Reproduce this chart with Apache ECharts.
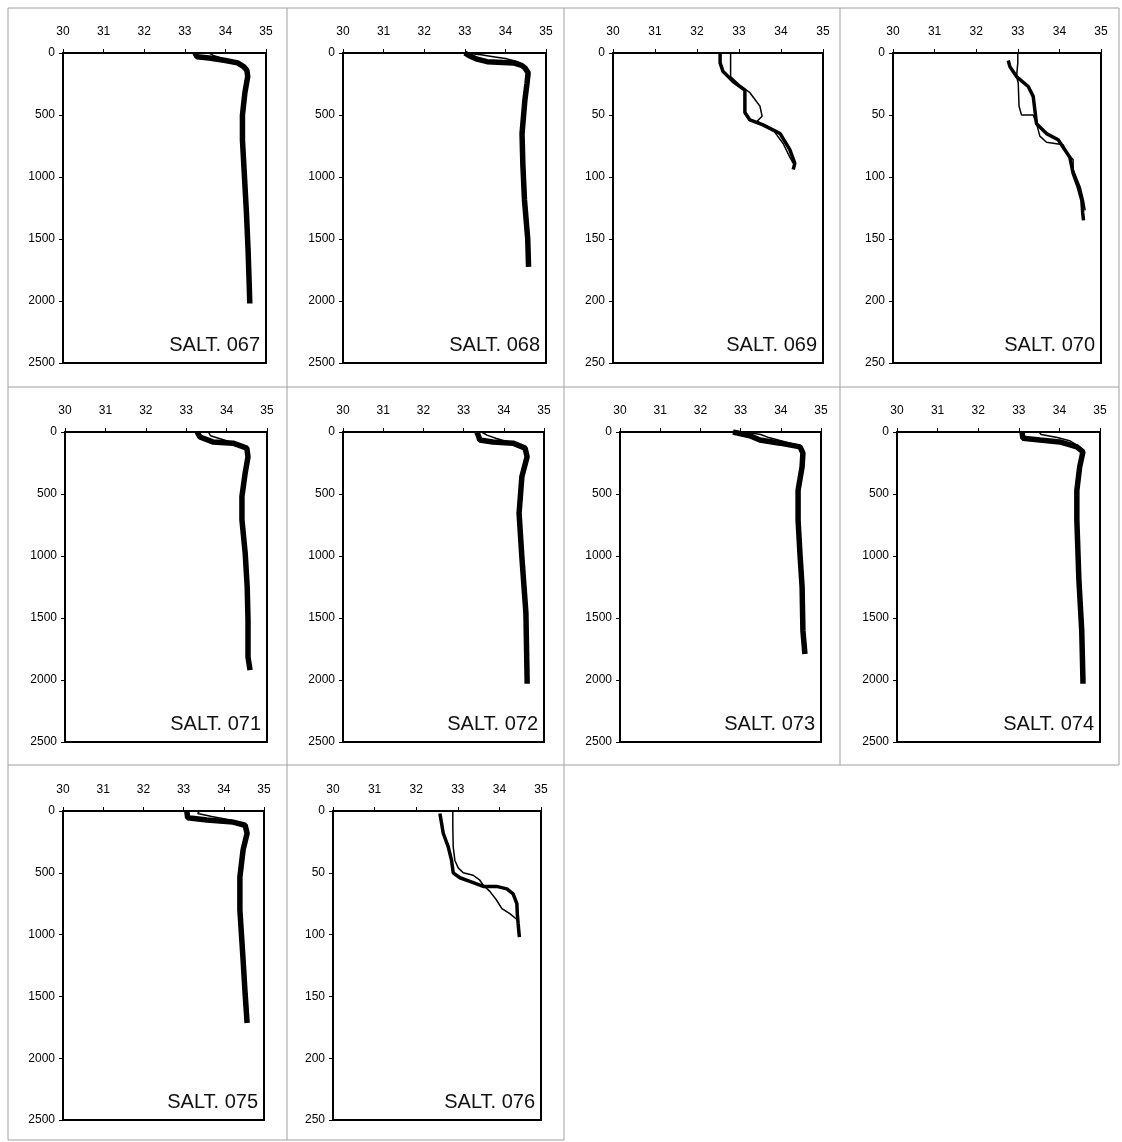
<!DOCTYPE html>
<html lang="en">
<head>
    <meta charset="UTF-8">
    <title>SALT profiles</title>
    <script src="https://cdn.jsdelivr.net/npm/echarts@6/dist/echarts.min.js"></script>
    <style>
        body { margin: 0; background: #fff; }
        #chart1 { width: 1122px; height: 1142px; }
    </style>
</head>
<body>
    <div id="chart1"></div>
<script type="text/javascript">
    // salinity axis, same on every panel
    var salMin = 30, salMax = 35;

    // station names
    var stations = ['067', '068', '069', '070', '071', '072', '073', '074', '075', '076'];

    // depth range of each panel (m)
    var depthMax = [2500, 2500, 250, 250, 2500, 2500, 2500, 2500, 2500, 250];

    // 067 - thick cast (a), thin cast (b)
    var d067a = [0, 30, 40, 60, 80, 110, 140, 190, 320, 500, 700, 1000, 1300, 1600, 1900, 2020];
    var s067a = [33.25, 33.3, 33.6, 34.0, 34.3, 34.45, 34.53, 34.55, 34.48, 34.42, 34.42, 34.47, 34.52, 34.56, 34.59, 34.6];
    var d067b = [0, 20, 40, 60, 90, 130, 200, 320];
    var s067b = [33.6, 33.7, 33.9, 34.1, 34.35, 34.5, 34.55, 34.48];

    // 068
    var d068a = [0, 20, 50, 70, 80, 100, 120, 160, 250, 380, 650, 900, 1185, 1500, 1725];
    var s068a = [33.0, 33.1, 33.3, 33.55, 34.2, 34.4, 34.48, 34.56, 34.53, 34.48, 34.41, 34.43, 34.47, 34.55, 34.57];
    var d068b = [0, 15, 30, 45, 70, 100, 140];
    var s068b = [33.0, 33.4, 33.7, 34.0, 34.3, 34.45, 34.55];

    // 069
    var d069a = [0, 8, 15, 23, 30, 48, 54, 58, 65, 78, 89, 94];
    var s069a = [32.55, 32.55, 32.62, 32.86, 33.14, 33.14, 33.26, 33.57, 33.98, 34.21, 34.33, 34.29];
    var d069b = [0, 19, 26, 32, 43, 51, 55, 62, 73, 84, 89];
    var s069b = [32.8, 32.8, 33.02, 33.26, 33.5, 33.55, 33.43, 33.81, 34.05, 34.21, 34.29];

    // 070
    var d070a = [6, 11, 19, 27, 35, 46, 57, 65, 70, 76, 84, 97, 108, 119, 129, 135];
    var s070a = [32.77, 32.81, 32.97, 33.25, 33.37, 33.41, 33.45, 33.69, 33.97, 34.09, 34.25, 34.33, 34.45, 34.54, 34.56, 34.58];
    var d070b = [0, 8, 19, 24, 43, 50, 50, 57, 67, 72, 74, 81, 86, 94, 108, 119, 127];
    var s070b = [33.0, 33.0, 32.97, 33.01, 33.03, 33.09, 33.37, 33.45, 33.53, 33.69, 34.09, 34.18, 34.33, 34.33, 34.5, 34.58, 34.62];

    // 071
    var d071a = [0, 40, 80, 90, 130, 200, 330, 520, 710, 975, 1250, 1515, 1815, 1920];
    var s071a = [33.27, 33.34, 33.66, 34.16, 34.5, 34.53, 34.46, 34.38, 34.38, 34.46, 34.51, 34.53, 34.53, 34.58];
    var d071b = [0, 30, 60, 90, 130];
    var s071b = [33.55, 33.6, 33.9, 34.2, 34.5];

    // 072
    var d072a = [0, 40, 65, 80, 90, 130, 200, 360, 655, 1010, 1460, 2000, 2030];
    var s072a = [33.33, 33.38, 33.4, 33.73, 34.23, 34.53, 34.58, 34.45, 34.38, 34.45, 34.55, 34.58, 34.58];
    var d072b = [0, 25, 50, 80, 120];
    var s072b = [33.45, 33.58, 33.8, 34.1, 34.45];

    // 073
    var d073a = [0, 30, 65, 90, 120, 170, 280, 470, 710, 1000, 1250, 1600, 1790];
    var s073a = [32.81, 33.23, 33.48, 33.98, 34.48, 34.55, 34.53, 34.43, 34.43, 34.48, 34.53, 34.55, 34.6];
    var d073b = [0, 20, 45, 70, 100, 140];
    var s073b = [33.1, 33.5, 33.7, 34.0, 34.35, 34.52];

    // 074
    var d074a = [0, 50, 65, 80, 120, 160, 280, 470, 710, 1190, 1600, 2000, 2030];
    var s074a = [33.08, 33.1, 33.52, 34.01, 34.43, 34.58, 34.5, 34.43, 34.43, 34.48, 34.55, 34.58, 34.58];
    var d074b = [0, 20, 45, 70, 110];
    var s074b = [33.5, 33.55, 33.95, 34.25, 34.45];

    // 075
    var d075a = [0, 55, 73, 90, 115, 180, 315, 535, 800, 1205, 1475, 1715];
    var s075a = [33.08, 33.1, 33.58, 34.23, 34.53, 34.58, 34.48, 34.4, 34.4, 34.48, 34.53, 34.58];
    var d075b = [0, 20, 45, 75, 110];
    var s075b = [33.4, 33.35, 33.7, 34.2, 34.5];

    // 076
    var d076a = [2, 18, 29, 40, 50, 54, 57, 61, 61, 63, 67, 75, 83, 91, 102];
    var s076a = [32.57, 32.65, 32.77, 32.85, 32.89, 33.05, 33.29, 33.61, 33.93, 34.18, 34.33, 34.42, 34.43, 34.45, 34.48];
    var d076b = [0, 13, 29, 40, 46, 50, 52, 56, 60, 65, 72, 79, 83, 88];
    var s076b = [32.88, 32.88, 32.89, 32.93, 33.01, 33.13, 33.37, 33.53, 33.61, 33.77, 33.93, 34.06, 34.25, 34.43];

    var casts = {
        '067': [[d067a, s067a], [d067b, s067b]],
        '068': [[d068a, s068a], [d068b, s068b]],
        '069': [[d069a, s069a], [d069b, s069b]],
        '070': [[d070a, s070a], [d070b, s070b]],
        '071': [[d071a, s071a], [d071b, s071b]],
        '072': [[d072a, s072a], [d072b, s072b]],
        '073': [[d073a, s073a], [d073b, s073b]],
        '074': [[d074a, s074a], [d074b, s074b]],
        '075': [[d075a, s075a], [d075b, s075b]],
        '076': [[d076a, s076a], [d076b, s076b]]
    };

    // plot boxes on the page (px)
    var boxes = [
        {left: 63, top: 53, width: 203, height: 310},
        {left: 343, top: 53, width: 203, height: 310},
        {left: 613, top: 53, width: 210, height: 310},
        {left: 893, top: 53, width: 208, height: 310},
        {left: 65, top: 432, width: 202, height: 310},
        {left: 343, top: 432, width: 201, height: 310},
        {left: 620, top: 432, width: 201, height: 310},
        {left: 897, top: 432, width: 203, height: 310},
        {left: 63, top: 811, width: 201, height: 309},
        {left: 333, top: 811, width: 208, height: 309}
    ];

    var font = 'Liberation Sans, Arial, sans-serif';
    var grids = [], xAxes = [], yAxes = [], series = [], graphics = [];

    stations.forEach(function (st, i) {
        var b = boxes[i];
        var deep = depthMax[i] > 1000;
        grids.push({
            left: b.left, top: b.top, width: b.width, height: b.height,
            show: true, borderColor: '#000', borderWidth: 2,
            containLabel: false, outerBoundsMode: 'none'
        });
        xAxes.push({
            gridIndex: i, type: 'value', position: 'top',
            min: salMin, max: salMax, interval: 1,
            axisLine: {lineStyle: {color: '#000', width: 2}},
            axisTick: {show: true, length: 4, lineStyle: {color: '#000'}},
            axisLabel: {fontSize: 12, color: '#000', fontFamily: font, margin: 15},
            splitLine: {show: false}
        });
        yAxes.push({
            gridIndex: i, type: 'value', inverse: true,
            min: 0, max: depthMax[i], interval: depthMax[i] / 5,
            axisLine: {show: true, lineStyle: {color: '#000', width: 2}},
            axisTick: {show: true, length: 4, lineStyle: {color: '#000'}},
            axisLabel: {
                fontSize: 12, color: '#000', fontFamily: font, margin: 8,
                formatter: function (v) { return String(v); }
            },
            splitLine: {show: false}
        });
        casts[st].forEach(function (c, k) {
            series.push({
                type: 'line', xAxisIndex: i, yAxisIndex: i,
                data: c[1].map(function (s, j) { return [s, c[0][j]]; }),
                showSymbol: false, symbol: 'none', silent: true,
                lineStyle: {color: '#000', width: k === 0 ? (deep ? 5.5 : 3.5) : 1.5},
                z: k === 0 ? 3 : 4
            });
        });
        graphics.push({
            type: 'text', x: b.left + b.width - 6, y: b.top + b.height - 8,
            style: {
                text: 'SALT. ' + st,
                font: '20px ' + font, fill: '#111',
                align: 'right', verticalAlign: 'bottom'
            },
            z: 10
        });
    });

    // cell borders of the table round the panels
    var cellLines = [
        [8, 8, 1119, 8], [8, 387, 1119, 387], [8, 765, 1119, 765], [8, 1140, 564, 1140],
        [8, 8, 8, 1140], [287, 8, 287, 1140], [564, 8, 564, 1140],
        [840, 8, 840, 765], [1119, 8, 1119, 765]
    ];
    cellLines.forEach(function (l) {
        graphics.push({
            type: 'line', shape: {x1: l[0], y1: l[1], x2: l[2], y2: l[3]},
            style: {stroke: '#a0a0a0', lineWidth: 1}, z: 1
        });
    });

    var chart = echarts.init(document.getElementById('chart1'));
    chart.setOption({
        animation: false,
        backgroundColor: '#fff',
        grid: grids,
        xAxis: xAxes,
        yAxis: yAxes,
        series: series,
        graphic: graphics
    });
</script>
</body>
</html>
